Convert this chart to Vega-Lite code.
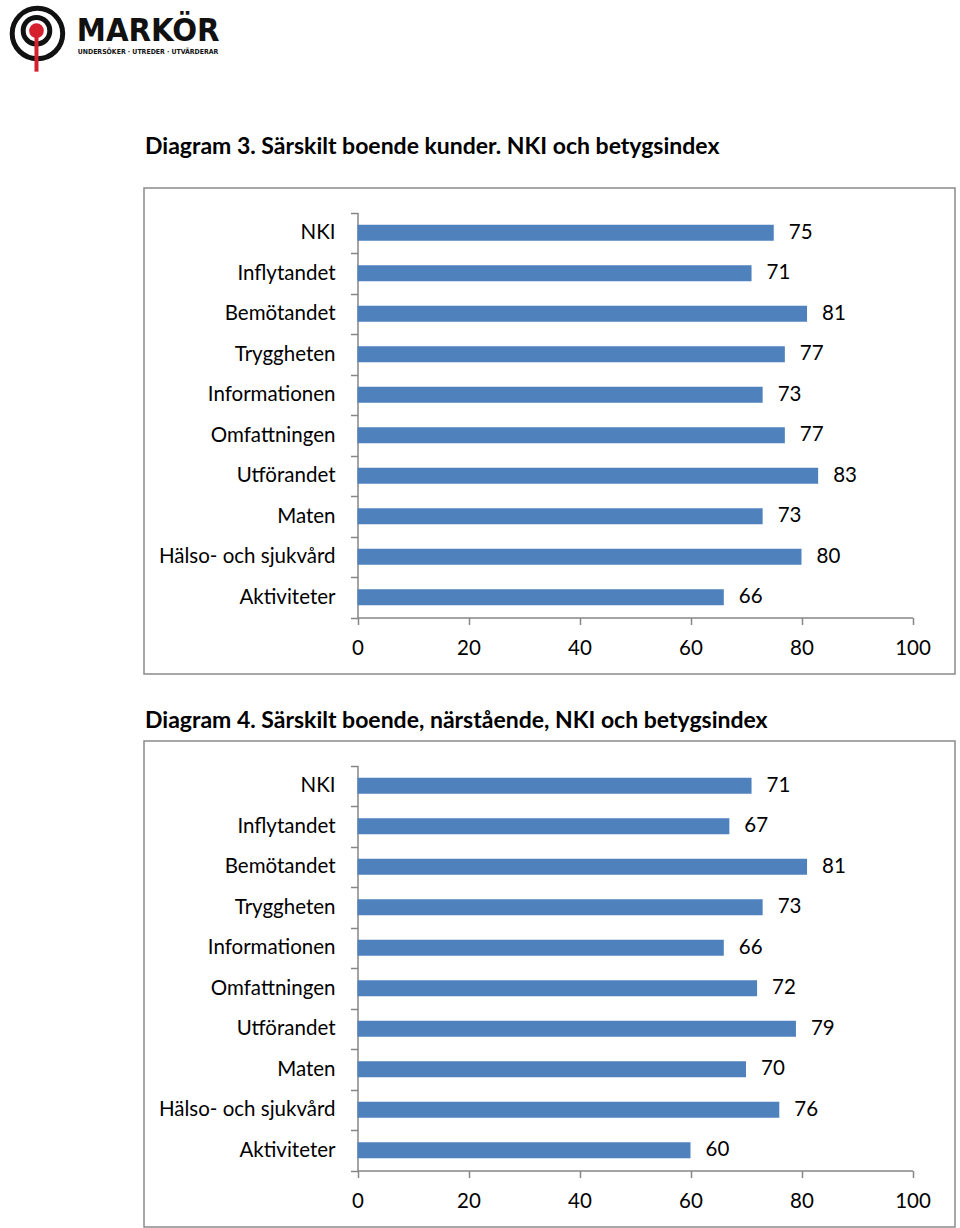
{
  "$schema": "https://vega.github.io/schema/vega-lite/v6.json",
  "autosize": {"type": "none"},
  "padding": {"left": 144, "top": 0, "right": 816, "bottom": 1228},
  "background": "white",
  "bounds": "flush",
  "spacing": 67,
  "config": {
    "font": "Lato",
    "view": {"stroke": null},
    "axis": {
      "domainColor": "#868686",
      "domainWidth": 1.5,
      "tickColor": "#868686",
      "tickWidth": 1.5,
      "tickSize": 7,
      "labelColor": "#000000",
      "labelFont": "Lato",
      "labelFontSize": 20.5,
      "grid": false,
      "title": null
    }
  },
  "datasets": {
    "d3": [
      {"kategori": "NKI", "index": 75},
      {"kategori": "Inflytandet", "index": 71},
      {"kategori": "Bemötandet", "index": 81},
      {"kategori": "Tryggheten", "index": 77},
      {"kategori": "Informationen", "index": 73},
      {"kategori": "Omfattningen", "index": 77},
      {"kategori": "Utförandet", "index": 83},
      {"kategori": "Maten", "index": 73},
      {"kategori": "Hälso- och sjukvård", "index": 80},
      {"kategori": "Aktiviteter", "index": 66}
    ],
    "d4": [
      {"kategori": "NKI", "index": 71},
      {"kategori": "Inflytandet", "index": 67},
      {"kategori": "Bemötandet", "index": 81},
      {"kategori": "Tryggheten", "index": 73},
      {"kategori": "Informationen", "index": 66},
      {"kategori": "Omfattningen", "index": 72},
      {"kategori": "Utförandet", "index": 79},
      {"kategori": "Maten", "index": 70},
      {"kategori": "Hälso- och sjukvård", "index": 76},
      {"kategori": "Aktiviteter", "index": 60}
    ],
    "logo": [{"brand": "MARKÖR", "tagline": "UNDERSÖKER · UTREDER · UTVÄRDERAR"}]
  },
  "vconcat": [
    {
      "width": 215,
      "height": 121,
      "view": {"stroke": null},
      "data": {"name": "logo"},
      "layer": [
        {
          "mark": {"type": "point", "shape": "circle", "filled": false, "stroke": "#111111", "strokeWidth": 5, "size": 2552, "opacity": 1},
          "encoding": {
            "x": {"datum": 39, "type": "quantitative", "scale": {"domain": [0, 960], "range": [-144, 816]}, "axis": null},
            "y": {"datum": 36, "type": "quantitative", "scale": {"domain": [0, 121], "range": [0, 121]}, "axis": null}
          }
        },
        {
          "mark": {"type": "point", "shape": "circle", "filled": false, "stroke": "#111111", "strokeWidth": 5, "size": 707, "opacity": 1},
          "encoding": {
            "x": {"datum": 38, "type": "quantitative"},
            "y": {"datum": 33, "type": "quantitative"}
          }
        },
        {
          "mark": {"type": "rule", "stroke": "#d5202e", "strokeWidth": 4},
          "encoding": {
            "x": {"datum": 38, "type": "quantitative"},
            "y": {"datum": 33, "type": "quantitative"},
            "y2": {"datum": 77}
          }
        },
        {
          "mark": {"type": "point", "shape": "circle", "filled": true, "fill": "#d5202e", "stroke": null, "size": 216, "opacity": 1},
          "encoding": {
            "x": {"datum": 38, "type": "quantitative"},
            "y": {"datum": 33, "type": "quantitative"}
          }
        },
        {
          "mark": {"type": "text", "align": "left", "baseline": "alphabetic", "font": "DejaVu Sans Condensed", "fontWeight": "bold", "fontSize": 32.5, "color": "#111111"},
          "encoding": {
            "x": {"datum": 80, "type": "quantitative"},
            "y": {"datum": 44, "type": "quantitative"},
            "text": {"field": "brand"}
          }
        },
        {
          "mark": {"type": "text", "align": "left", "baseline": "alphabetic", "font": "DejaVu Sans Condensed", "fontWeight": "bold", "fontSize": 6.9, "color": "#111111"},
          "encoding": {
            "x": {"datum": 81, "type": "quantitative"},
            "y": {"datum": 58.5, "type": "quantitative"},
            "text": {"field": "tagline"}
          }
        }
      ]
    },
    {
      "width": 811,
      "height": 486,
      "view": {"stroke": "#8a8a8a", "strokeWidth": 1.5},
      "title": {"text": "Diagram 3. Särskilt boende kunder. NKI och betygsindex", "anchor": "start", "frame": "group", "baseline": "alphabetic", "offset": 35, "dx": 1, "dy": 34, "font": "Lato", "fontSize": 23, "fontWeight": "bold", "color": "#000000"},
      "data": {"name": "d3"},
      "encoding": {
        "y": {
          "field": "kategori", "type": "nominal", "sort": null,
          "scale": {"range": [24.5, 429.5], "paddingInner": 0, "paddingOuter": 0},
          "axis": {"orient": "left", "offset": -213.5, "tickBand": "extent", "labelPadding": 15.5, "labelAlign": "right", "labelBaseline": "middle"}
        },
        "x": {
          "field": "index", "type": "quantitative",
          "scale": {"domain": [0, 100], "range": [213.5, 768.5], "nice": false},
          "axis": {"orient": "bottom", "offset": -56.5, "values": [0, 20, 40, 60, 80, 100], "labelPadding": 24, "labelBaseline": "middle", "labelFlush": false}
        }
      },
      "layer": [
        {"mark": {"type": "bar", "color": "#4F81BD", "height": {"band": 0.4}}},
        {"mark": {"type": "text", "align": "left", "baseline": "middle", "dx": 15, "fontSize": 20.5, "color": "#000000", "font": "Lato"}, "encoding": {"text": {"field": "index", "type": "quantitative"}}}
      ]
    },
    {
      "width": 811,
      "height": 486,
      "view": {"stroke": "#8a8a8a", "strokeWidth": 1.5},
      "title": {"text": "Diagram 4. Särskilt boende, närstående, NKI och betygsindex", "anchor": "start", "frame": "group", "baseline": "alphabetic", "offset": 11, "dx": 1, "dy": 31, "font": "Lato", "fontSize": 23, "fontWeight": "bold", "color": "#000000"},
      "data": {"name": "d4"},
      "encoding": {
        "y": {
          "field": "kategori", "type": "nominal", "sort": null,
          "scale": {"range": [24.5, 429.5], "paddingInner": 0, "paddingOuter": 0},
          "axis": {"orient": "left", "offset": -213.5, "tickBand": "extent", "labelPadding": 15.5, "labelAlign": "right", "labelBaseline": "middle"}
        },
        "x": {
          "field": "index", "type": "quantitative",
          "scale": {"domain": [0, 100], "range": [213.5, 768.5], "nice": false},
          "axis": {"orient": "bottom", "offset": -56.5, "values": [0, 20, 40, 60, 80, 100], "labelPadding": 24, "labelBaseline": "middle", "labelFlush": false}
        }
      },
      "layer": [
        {"mark": {"type": "bar", "color": "#4F81BD", "height": {"band": 0.4}}},
        {"mark": {"type": "text", "align": "left", "baseline": "middle", "dx": 15, "fontSize": 20.5, "color": "#000000", "font": "Lato"}, "encoding": {"text": {"field": "index", "type": "quantitative"}}}
      ]
    }
  ]
}
